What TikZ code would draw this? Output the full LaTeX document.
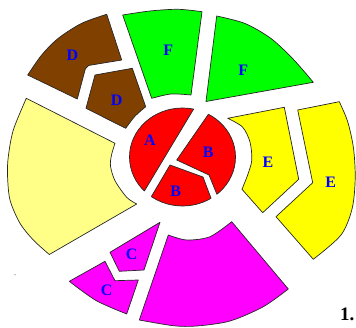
\documentclass[tikz,border=0pt]{standalone}
\usepackage{fontspec}
\setmainfont{Liberation Serif}
\definecolor{brownD}{RGB}{128,64,0}
\definecolor{lightY}{RGB}{255,255,136}
\definecolor{magP}{RGB}{255,0,255}
\definecolor{yelP}{RGB}{255,255,0}
\definecolor{grnP}{RGB}{0,255,0}
\definecolor{redP}{RGB}{255,0,0}
\definecolor{bluL}{RGB}{0,0,255}
\begin{document}
\begin{tikzpicture}[x=1pt,y=-1pt,
  outl/.style={draw=black!85, line width=0.7pt, line join=round},
  lbl/.style={text=bluL, font=\fontsize{16}{16}\selectfont\bfseries, inner sep=0pt}]
\useasboundingbox (0,0) rectangle (356,328);

% ---- outer / middle ring pieces ----
% brown D (outer)
\filldraw[outl, fill=brownD] (106.7,14.3) -- (121.7,60) -- (88.5,65.5) -- (85.3,69) -- (77.3,99) -- (27.7,75)
  -- plot[smooth] coordinates {(27.7,75) (41.7,55) (58.3,38.3) (81.7,23.3) (106.7,14.3)} -- cycle;
% brown D (inner)
\filldraw[outl, fill=brownD] (95,75) -- (132.3,68.3) -- (145.7,106.7)
  -- plot[smooth] coordinates {(145.7,106.7) (134.8,116.4) (125.7,128.3)} -- (86,108.3) -- cycle;
% green F (left)
\filldraw[outl, fill=grnP] (122.7,15)
  -- plot[smooth] coordinates {(122.7,15) (150,11) (178,9.3) (202,11.7)} -- (191,95)
  -- plot[smooth] coordinates {(191,95) (171,94) (151.7,98.3)} -- cycle;
% green F (right)
\filldraw[outl, fill=grnP] (216.7,16)
  -- plot[smooth] coordinates {(216.7,16) (245,23.5) (271,38.5) (293.5,59.5) (313.3,82.3)} -- (206,101.5) -- cycle;
% yellow E (inner)
\filldraw[outl, fill=yelP] (227.7,118.3) -- (284.3,107.3) -- (298.7,179.3) -- (262.7,212.7) -- (242,189.3)
  -- plot[smooth] coordinates {(242,189.3) (248,174) (251.8,160) (250,142) (242.5,127) (227.7,118.3)} -- cycle;
% yellow E (outer)
\filldraw[outl, fill=yelP] (297.7,110) -- (339.3,101.7)
  -- plot[smooth] coordinates {(339.3,101.7) (347.7,121.7) (353.5,148.3) (355.2,178.3) (352.2,208.3) (341,235) (313.3,259.3)}
  -- (276,216.7) -- (312.7,182.7) -- cycle;
% light yellow (left)
\filldraw[outl, fill=lightY] (26.3,98.3) -- (115,143.3)
  -- plot[smooth] coordinates {(115,143.3) (111.5,155) (110.5,166) (115,180.7) (126.7,197.3) (136.7,204)} -- (49.3,254.5)
  -- plot[smooth] coordinates {(49.3,254.5) (33.3,240) (20,223.3) (10,200) (7.5,175) (8.3,156.7) (13.3,130) (26.3,98.3)} -- cycle;
% magenta C (upper)
\filldraw[outl, fill=magP] (160,222.3) -- (110,252.3) -- (119.3,271.3) -- (144,270) -- cycle;
% magenta C (lower)
\filldraw[outl, fill=magP] (105,261.3) -- (69.3,281.3)
  -- plot[smooth] coordinates {(69.3,281.3) (96,300.5) (126.7,314)} -- (138.3,280) -- (115,280.7) -- cycle;
% magenta big
\filldraw[outl, fill=magP] (168.3,235)
  -- plot[smooth] coordinates {(168.3,235) (186.7,240) (210,236.7) (231.7,221.7)} -- (288.3,289)
  -- plot[smooth] coordinates {(288.3,289) (263.3,306.7) (230,321) (196.7,326) (173.3,325.7) (139.3,320)} -- cycle;

% ---- red centre pieces ----
% A
\begin{scope}
  \clip (221.3,63) -- (116.4,237.6) -- (90,237.6) -- (90,63) -- cycle;
  \fill[redP] (182.5,157) ellipse [x radius=53, y radius=49];
  \draw[outl] (182.5,157) ellipse [x radius=53, y radius=49];
\end{scope}
\begin{scope}
  \clip (182.5,157) ellipse [x radius=53, y radius=49];
  \draw[outl] (221.3,63) -- (116.4,237.6);
\end{scope}
% B (right)
\begin{scope}
  \clip (236.7,73.4) -- (176.7,160) -- (209,175) -- (236,241) -- (270,241) -- (270,73.4) -- cycle;
  \fill[redP] (182.5,157) ellipse [x radius=53, y radius=49];
  \draw[outl] (182.5,157) ellipse [x radius=53, y radius=49];
\end{scope}
\begin{scope}
  \clip (182.5,157) ellipse [x radius=53, y radius=49];
  \draw[outl] (236.7,73.4) -- (176.7,160) -- (209,175) -- (236,241);
\end{scope}
% B (bottom)
\begin{scope}
  \clip (170,165) -- (203,177) -- (229,246) -- (118.3,252.5) -- cycle;
  \fill[redP] (182.5,157) ellipse [x radius=53, y radius=49];
  \draw[outl] (182.5,157) ellipse [x radius=53, y radius=49];
\end{scope}
\begin{scope}
  \clip (182.5,157) ellipse [x radius=53, y radius=49];
  \draw[outl] (229,246) -- (203,177) -- (170,165) -- (118.3,252.5);
\end{scope}

% ---- labels ----
\node[lbl] (d1) at (72.3,55.3) {D};
\node[lbl] (d2) at (116.7,100.7) {D};
\node[lbl] (f1) at (168.3,50) {F};
\node[lbl] (f2) at (243.3,70.7) {F};
\node[lbl] (a) at (150,140) {A};
\node[lbl] (b1) at (208.3,152.7) {B};
\node[lbl] (b2) at (175.7,191) {B};
\node[lbl] (e1) at (268,162) {E};
\node[lbl] (e2) at (330.7,182) {E};
\node[lbl] (c1) at (131.7,254.7) {C};
\node[lbl] (c2) at (106.7,290) {C};
\node[inner sep=0pt, font=\fontsize{19}{19}\selectfont\bfseries] (num) at (347.3,314) {1.};
\fill[black!55] (15,274.7) circle (0.6);
\end{tikzpicture}
\end{document}
